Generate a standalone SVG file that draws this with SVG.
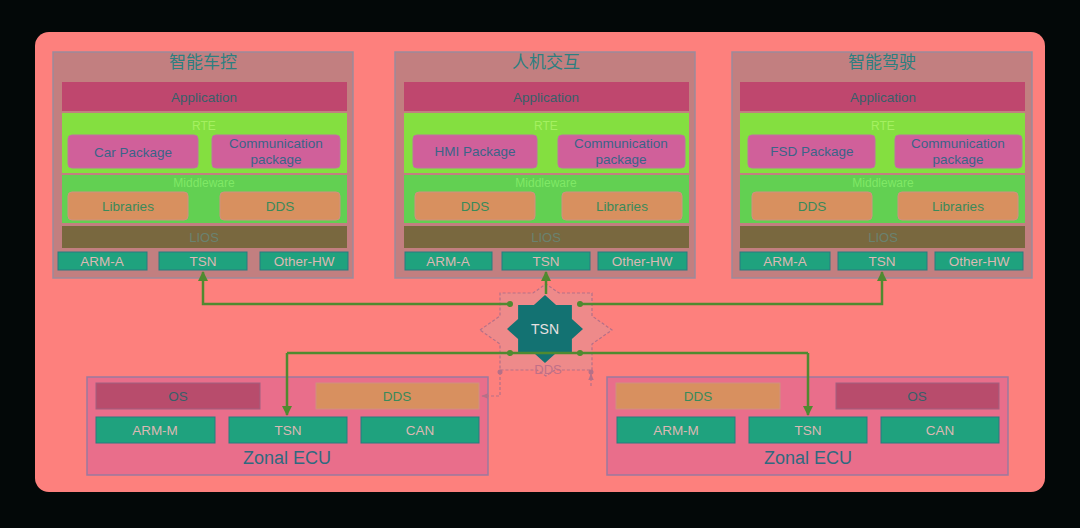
<svg xmlns="http://www.w3.org/2000/svg" width="1080" height="528" viewBox="0 0 1080 528">
<defs>
<style>
.t{font-family:"Liberation Sans","Noto Sans CJK SC",sans-serif;text-anchor:middle;dominant-baseline:central}
.panel{fill:#c27f80;stroke:#9c8a9a;stroke-width:1.5}
.title{font-size:17px;fill:#2d7f80}
.app{fill:#bf476e}
.rte{fill:#84df40}
.mid{fill:#62d052}
.pkg{fill:#d0609a;stroke:#c070a0;stroke-width:1}
.lib{fill:#d8905f;stroke:#d09080;stroke-width:1}
.lios{fill:#79683f}
.hw{fill:#1fa27e;stroke:#2a7a80;stroke-width:1}
.lbl{font-size:13.5px;fill:#37606a}
.pkgt{font-size:13.5px;fill:#3a6488}
.libt{font-size:13.5px;fill:#3a8a5a}
.faint{font-size:12px;fill:#a4f060}
.fmid{font-size:12px;fill:#80e866}
.liost{font-size:13px;fill:#6a8270}
.hwt{font-size:13.5px;fill:#dcb8b4}
.zone{fill:#e96e8b;stroke:#9a7a9e;stroke-width:1.5}
.os{fill:#b84c6c;stroke:#a06080;stroke-width:1}
.zt{font-size:18px;fill:#2f6a80}
.conn{fill:none;stroke:#4f8a30;stroke-width:2.5}
.dash{fill:none;stroke:#b57088;stroke-width:1.2;stroke-dasharray:3 2}
</style>
<marker id="ah" viewBox="0 0 10 10" refX="9" refY="5" markerWidth="4" markerHeight="4" orient="auto-start-reverse">
<path d="M0,0 L10,5 L0,10 z" fill="#4f8a30"/>
</marker>
<marker id="ahd" viewBox="0 0 10 10" refX="9" refY="5" markerWidth="6" markerHeight="6" orient="auto-start-reverse">
<path d="M0,1 L10,5 L0,9 z" fill="#b57088"/>
</marker>
</defs>
<rect x="0" y="0" width="1080" height="528" fill="#030808"/>
<rect x="35" y="32" width="1010" height="460" rx="14" fill="#fd807d"/>

<g id="panel-car">
<rect class="panel" x="53" y="52" width="300" height="226"/>
<text class="t title" x="203" y="62">智能车控</text>
<rect class="app" x="62" y="82" width="285" height="29"/>
<text class="t lbl" x="204" y="97">Application</text>
<rect class="rte" x="62" y="113" width="285" height="60"/>
<text class="t faint" x="204" y="126">RTE</text>
<rect class="pkg" x="68" y="135" width="130" height="33" rx="4"/>
<text class="t pkgt" x="133" y="152">Car Package</text>
<rect class="pkg" x="212" y="135" width="128" height="33" rx="4"/>
<text class="t pkgt" x="276" y="143">Communication</text>
<text class="t pkgt" x="276" y="159">package</text>
<rect class="mid" x="62" y="175" width="285" height="48"/>
<text class="t fmid" x="204" y="183">Middleware</text>
<rect class="lib" x="68" y="192" width="120" height="28" rx="4"/>
<text class="t libt" x="128" y="206">Libraries</text>
<rect class="lib" x="220" y="192" width="120" height="28" rx="4"/>
<text class="t libt" x="280" y="206">DDS</text>
<rect class="lios" x="62" y="226" width="285" height="22"/>
<text class="t liost" x="204" y="237">LIOS</text>
<rect class="hw" x="58" y="252" width="89" height="18"/>
<text class="t hwt" x="102" y="261">ARM-A</text>
<rect class="hw" x="159" y="252" width="88" height="18"/>
<text class="t hwt" x="203" y="261">TSN</text>
<rect class="hw" x="260" y="252" width="88" height="18"/>
<text class="t hwt" x="304" y="261">Other-HW</text>
</g>

<g id="panel-hmi">
<rect class="panel" x="395" y="52" width="300" height="226"/>
<text class="t title" x="546" y="62">人机交互</text>
<rect class="app" x="404" y="82" width="285" height="29"/>
<text class="t lbl" x="546" y="97">Application</text>
<rect class="rte" x="404" y="113" width="285" height="60"/>
<text class="t faint" x="546" y="126">RTE</text>
<rect class="pkg" x="413" y="135" width="124" height="33" rx="4"/>
<text class="t pkgt" x="475" y="151">HMI Package</text>
<rect class="pkg" x="558" y="135" width="127" height="33" rx="4"/>
<text class="t pkgt" x="621" y="143">Communication</text>
<text class="t pkgt" x="621" y="159">package</text>
<rect class="mid" x="404" y="175" width="285" height="48"/>
<text class="t fmid" x="546" y="183">Middleware</text>
<rect class="lib" x="415" y="192" width="120" height="28" rx="4"/>
<text class="t libt" x="475" y="206">DDS</text>
<rect class="lib" x="562" y="192" width="120" height="28" rx="4"/>
<text class="t libt" x="622" y="206">Libraries</text>
<rect class="lios" x="404" y="226" width="285" height="22"/>
<text class="t liost" x="546" y="237">LIOS</text>
<rect class="hw" x="405" y="252" width="87" height="18"/>
<text class="t hwt" x="448" y="261">ARM-A</text>
<rect class="hw" x="502" y="252" width="88" height="18"/>
<text class="t hwt" x="546" y="261">TSN</text>
<rect class="hw" x="598" y="252" width="89" height="18"/>
<text class="t hwt" x="642" y="261">Other-HW</text>
</g>

<g id="panel-fsd">
<rect class="panel" x="732" y="52" width="300" height="226"/>
<text class="t title" x="882" y="62">智能驾驶</text>
<rect class="app" x="740" y="82" width="285" height="29"/>
<text class="t lbl" x="883" y="97">Application</text>
<rect class="rte" x="740" y="113" width="285" height="60"/>
<text class="t faint" x="883" y="126">RTE</text>
<rect class="pkg" x="748" y="135" width="127" height="33" rx="4"/>
<text class="t pkgt" x="812" y="151">FSD Package</text>
<rect class="pkg" x="895" y="135" width="127" height="33" rx="4"/>
<text class="t pkgt" x="958" y="143">Communication</text>
<text class="t pkgt" x="958" y="159">package</text>
<rect class="mid" x="740" y="175" width="285" height="48"/>
<text class="t fmid" x="883" y="183">Middleware</text>
<rect class="lib" x="752" y="192" width="120" height="28" rx="4"/>
<text class="t libt" x="812" y="206">DDS</text>
<rect class="lib" x="898" y="192" width="120" height="28" rx="4"/>
<text class="t libt" x="958" y="206">Libraries</text>
<rect class="lios" x="740" y="226" width="285" height="22"/>
<text class="t liost" x="883" y="237">LIOS</text>
<rect class="hw" x="740" y="252" width="90" height="18"/>
<text class="t hwt" x="785" y="261">ARM-A</text>
<rect class="hw" x="838" y="252" width="89" height="18"/>
<text class="t hwt" x="882" y="261">TSN</text>
<rect class="hw" x="935" y="252" width="88" height="18"/>
<text class="t hwt" x="979" y="261">Other-HW</text>
</g>

<g id="tsn-hub">
<polygon points="480,330 500,316 500,293 533,293 546,284 559,293 592,293 592,316 612,330 592,344 592,370 555,370 546,376 537,370 500,370 500,344" fill="#ee8a8a" stroke="#b57088" stroke-width="1.2" stroke-dasharray="3 2"/>
<polygon points="583,329 571.9,339 571.9,353 556.1,353 545,363 533.9,353 518.1,353 518.1,339 507,329 518.1,319 518.1,305 533.9,305 545,295 556.1,305 571.9,305 571.9,319" fill="#137272"/>
<text class="t" x="545" y="329" font-size="14" fill="#e8e0e0">TSN</text>
<text class="t" x="548" y="369" font-size="13" fill="#c07088">DDS</text>
</g>

<g id="zonal-left">
<rect class="zone" x="87" y="377" width="401" height="98"/>
<rect class="os" x="96" y="383" width="164" height="26"/>
<text class="t lbl" x="178" y="396">OS</text>
<rect class="lib" x="316" y="383" width="163" height="26"/>
<text class="t libt" x="397" y="396">DDS</text>
<rect class="hw" x="96" y="417" width="119" height="26"/>
<text class="t hwt" x="155" y="430">ARM-M</text>
<rect class="hw" x="229" y="417" width="118" height="26"/>
<text class="t hwt" x="288" y="430">TSN</text>
<rect class="hw" x="361" y="417" width="118" height="26"/>
<text class="t hwt" x="420" y="430">CAN</text>
<text class="t zt" x="287" y="458">Zonal ECU</text>
</g>

<g id="zonal-right">
<rect class="zone" x="607" y="377" width="401" height="98"/>
<rect class="lib" x="616" y="383" width="164" height="26"/>
<text class="t libt" x="698" y="396">DDS</text>
<rect class="os" x="836" y="383" width="163" height="26"/>
<text class="t lbl" x="917" y="396">OS</text>
<rect class="hw" x="617" y="417" width="118" height="26"/>
<text class="t hwt" x="676" y="430">ARM-M</text>
<rect class="hw" x="749" y="417" width="118" height="26"/>
<text class="t hwt" x="808" y="430">TSN</text>
<rect class="hw" x="881" y="417" width="118" height="26"/>
<text class="t hwt" x="940" y="430">CAN</text>
<text class="t zt" x="808" y="458">Zonal ECU</text>
</g>

<g id="connectors">
<path class="conn" d="M510,304 H203 V272" marker-end="url(#ah)"/>
<path class="conn" d="M580,304 H882 V272" marker-end="url(#ah)"/>
<path class="conn" d="M546,294 V272" marker-end="url(#ah)"/>
<path class="conn" d="M287,353 H808"/>
<path class="conn" d="M287,353 V415" marker-end="url(#ah)"/>
<path class="conn" d="M808,353 V415" marker-end="url(#ah)"/>
<circle cx="510" cy="304" r="3" fill="#4f8a30"/>
<circle cx="580" cy="304" r="3" fill="#4f8a30"/>
<circle cx="510" cy="353" r="3" fill="#4f8a30"/>
<circle cx="580" cy="353" r="3" fill="#4f8a30"/>
<circle cx="500" cy="372" r="2.5" fill="#b57088"/>
<circle cx="591" cy="372" r="2.5" fill="#b57088"/>
<path class="dash" d="M500,372 V396 H482" marker-end="url(#ahd)"/>
<path class="dash" d="M591,386 V374" marker-end="url(#ahd)"/>
</g>
</svg>
